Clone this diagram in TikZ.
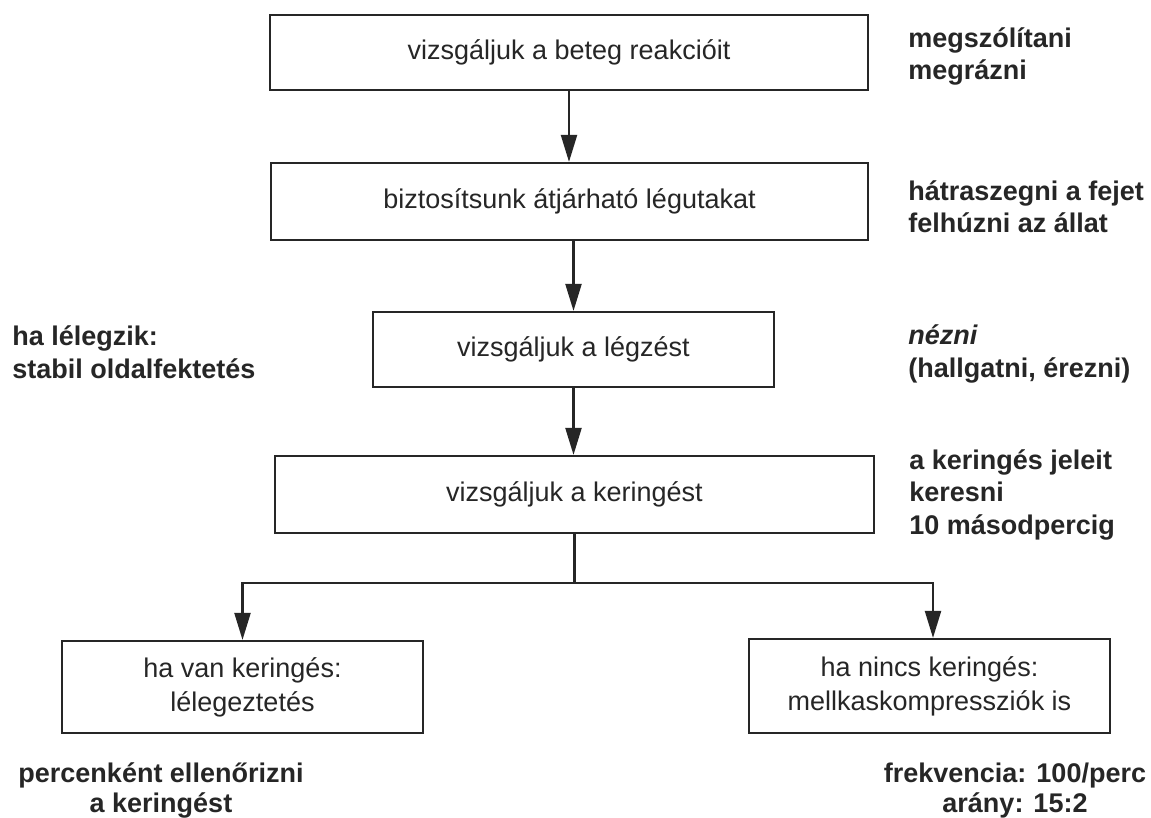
\documentclass[tikz,border=0pt]{standalone}
\usepackage{fontspec}
\setmainfont{Liberation Sans}
\usetikzlibrary{arrows.meta}
\definecolor{ink}{HTML}{262626}
\begin{document}
\begin{tikzpicture}[x=0.5pt,y=-0.5pt,
  box/.style={draw=ink, line width=1.1pt, rectangle, inner sep=0pt, align=center,
    text=ink, font=\fontsize{13.5}{17}\selectfont},
  note/.style={text=ink, inner sep=0pt, align=left,
    font=\bfseries\fontsize{13.5}{16.25}\selectfont},
  foot/.style={text=ink, inner sep=0pt, align=center,
    font=\bfseries\fontsize{13.5}{15}\selectfont},
  link/.style={draw=ink, line width=1.1pt},
  flow/.style={link, -{Triangle[length=13.5pt,width=8pt]}}]
\useasboundingbox[fill=white] (0,0) rectangle (1151,818);

% main chain of checks
\node[box, minimum width=299pt, minimum height=37.5pt] (b1) at (569,52.5) {vizsgáljuk a beteg reakcióit};
\node[box, minimum width=298.5pt, minimum height=38.5pt] (b2) at (569.5,201.5) {biztosítsunk átjárható légutakat};
\node[box, minimum width=200.5pt, minimum height=37.5pt] (b3) at (573.5,349.5) {vizsgáljuk a légzést};
\node[box, minimum width=299.5pt, minimum height=38.5pt] (b4) at (574.5,494.5) {vizsgáljuk a keringést};
\node[box, minimum width=180.5pt, minimum height=46pt] (b5) at (242.5,687) {ha van keringés:\\lélegeztetés};
\node[box, minimum width=180.5pt, minimum height=47pt] (b6) at (929.5,686) {ha nincs keringés:\\mellkaskompressziók is};

% connectors
\draw[flow] (b1.south) -- (b1.south |- b2.north);
\draw[flow] (b3.north |- b2.south) -- (b3.north);
\draw[flow] (b3.south) -- (b3.south |- b4.north);
\coordinate (split) at (574.5,583);
\coordinate (rtop) at ([xshift=1.75pt]b6.north);
\draw[link] (b4.south) -- (split);
\draw[flow] (split) -| (b5.north);
\draw[flow] (split) -| (rtop);

% side notes (base anchor sits on the last line)
\node[note, anchor=base west] (n1) at (908,80) {megszólítani\\megrázni};
\node[note, anchor=base west] (n2) at (908,233) {hátraszegni a fejet\\felhúzni az állat};
\node[note, anchor=base west] (n3) at (12,378) {ha lélegzik:\\stabil oldalfektetés};
\node[note, anchor=base west] (n4) at (908,377) {\textit{nézni}\\(hallgatni, érezni)};
\node[note, anchor=base west] (n5) at (909,534) {a keringés jeleit\\keresni\\10 másodpercig};
\node[foot, anchor=base] (n6) at (161,812) {percenként ellenőrizni\\a keringést};
\node[foot, anchor=base] (n7) at (1015,812) {frekvencia: 100/perc\\arány: 15:2};
\end{tikzpicture}
\end{document}
